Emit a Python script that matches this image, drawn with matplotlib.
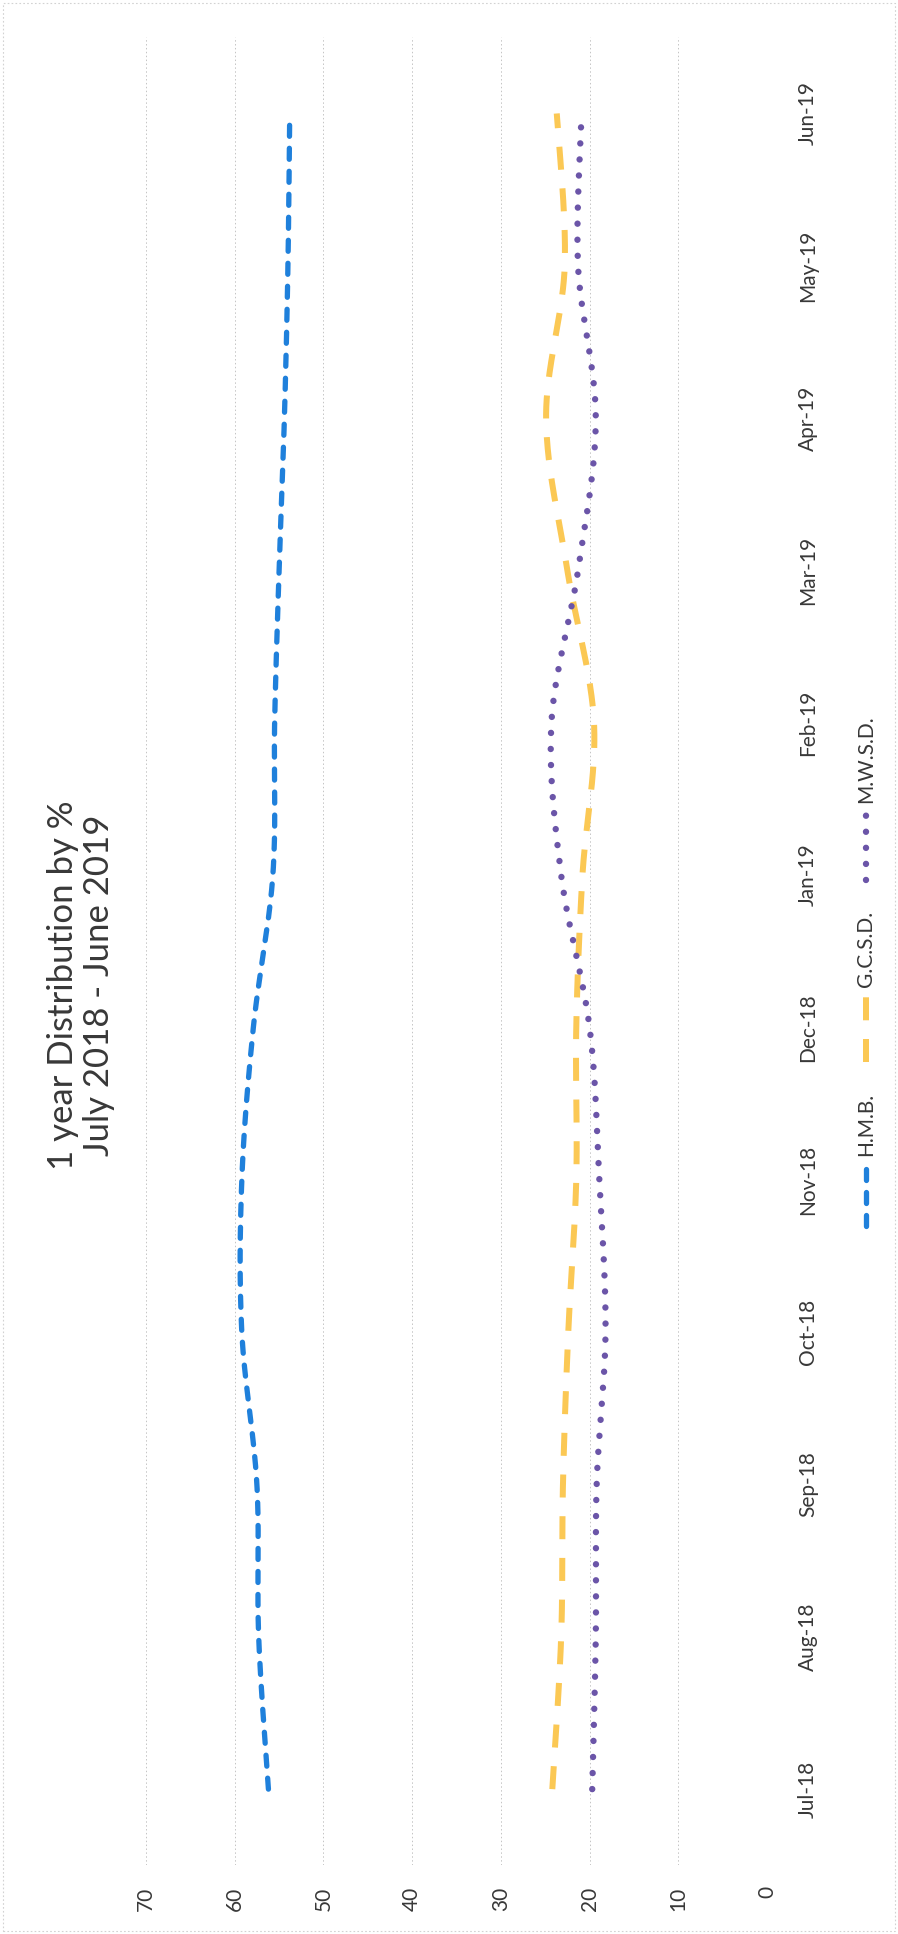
import numpy as np
import matplotlib
matplotlib.use("Agg")
import matplotlib.pyplot as plt
from matplotlib.lines import Line2D
from matplotlib.patches import Rectangle

plt.rcParams['font.family'] = ['Lato', 'DejaVu Sans']

# ---- data -------------------------------------------------------------
months = ['Jul-18', 'Aug-18', 'Sep-18', 'Oct-18', 'Nov-18', 'Dec-18',
          'Jan-19', 'Feb-19', 'Mar-19', 'Apr-19', 'May-19', 'Jun-19']
hmb = [56.2, 57.3, 57.5, 59.2, 59.2, 57.9, 55.7, 55.5, 55.0, 54.4, 54.0, 53.8]
gcsd = [24.2, 23.2, 23.0, 22.4, 21.5, 21.5, 20.8, 19.5, 22.5, 24.9, 22.8, 23.7]
mwsd = [19.7, 19.3, 19.2, 18.2, 18.9, 20.0, 23.2, 24.3, 21.3, 19.3, 21.3, 20.9]
value_ticks = [0, 10, 20, 30, 40, 50, 60, 70]
title_text = "1 year Distribution by %\nJuly 2018 - June 2019"
series_names = ['H.M.B.', 'G.C.S.D.', 'M.W.S.D.']

# ---- styles -----------------------------------------------------------
C_BLUE = '#1f80db'
C_GOLD = '#fbc854'
C_PURPLE = '#6b55a8'
TXT = '#383838'
GRID = '#c4c4c4'

W, H, DPI = 898, 1934, 100
fig = plt.figure(figsize=(W / DPI, H / DPI), dpi=DPI)
fig.patch.set_facecolor('white')


def px(v):
    """pixel length -> points"""
    return v * 72.0 / DPI


def smooth_curve(vals, n=40):
    """Smoothed line through the points (cubic Bezier, Excel-like tension)."""
    y = np.arange(len(vals), dtype=float)
    x = np.asarray(vals, dtype=float)
    P = np.column_stack([x, y])
    out = []
    for i in range(len(P) - 1):
        p0 = P[i - 1] if i > 0 else P[i]
        p1 = P[i]
        p2 = P[i + 1]
        p3 = P[i + 2] if i + 2 < len(P) else P[i + 1]
        c1 = p1 + (p2 - p0) / 6.0
        c2 = p2 - (p3 - p1) / 6.0
        t = np.linspace(0, 1, n, endpoint=(i == len(P) - 2))[:, None]
        seg = ((1 - t) ** 3) * p1 + 3 * ((1 - t) ** 2) * t * c1 \
            + 3 * (1 - t) * (t ** 2) * c2 + (t ** 3) * p2
        out.append(seg)
    out = np.vstack(out)
    return out[:, 0], out[:, 1]


# ---- plot area (the chart is laid out turned on its side) -------------
x_left, x_right = 146, 767          # value 70 ... value 0
y_top, y_bot = 37.3, 1865.3         # Jun-19 side ... Jul-18 side
ax = fig.add_axes([x_left / W, (H - y_bot) / H,
                   (x_right - x_left) / W, (y_bot - y_top) / H])
ax.set_xlim(70, 0)
ax.set_ylim(-0.5, len(months) - 0.5)
for s in ax.spines.values():
    s.set_visible(False)

ax.set_xticks(value_ticks)
ax.set_xticklabels([str(v) for v in value_ticks], rotation=90,
                   ha='center', va='top')
ax.tick_params(axis='x', length=0, pad=px(21), labelsize=15,
               labelcolor=TXT)
ax.grid(axis='x', color=GRID, lw=0.7, linestyle=(0, (1.5, 2.5)))
ax.set_axisbelow(True)

ax.yaxis.tick_right()
ax.set_yticks(range(len(months)))
ax.set_yticklabels(months, rotation=90, va='center', ha='left')
ax.tick_params(axis='y', length=0, pad=px(31), labelsize=15,
               labelcolor=TXT)

# ---- series -----------------------------------------------------------
LW_B, LW_G, LW_P = 5.3, 6.0, 6.4   # pixels
style_b = dict(color=C_BLUE, lw=px(LW_B), dashes=(11 / LW_B, 12 / LW_B),
               dash_capstyle='round')
style_g = dict(color=C_GOLD, lw=px(LW_G), dashes=(23 / LW_G, 18.7 / LW_G),
               dash_capstyle='butt')
style_p = dict(color=C_PURPLE, lw=px(LW_P), dashes=(0.01, 16 / LW_P),
               dash_capstyle='round')

for vals, st in ((gcsd, style_g), (mwsd, style_p), (hmb, style_b)):
    xs, ys = smooth_curve(vals)
    ax.plot(xs, ys, **st)

# ---- title ------------------------------------------------------------
fig.text(81 / W, 1 - 985 / H, title_text, rotation=90, ha='center',
         va='center', multialignment='center', fontsize=25, color=TXT,
         linespacing=1.15)

# ---- legend (stacked bottom to top) -----------------------------------
lx = 866 / W


def fy(v):
    return 1 - v / H


legend_items = [
    (style_b, 1226, 1166, series_names[0], 1156),
    (style_g, 1062, 996, series_names[1], 987),
    (style_p, 880, 813, series_names[2], 803),
]
for st, y0, y1, name, ty in legend_items:
    fig.add_artist(Line2D([lx, lx], [fy(y0), fy(y1)],
                          transform=fig.transFigure, **st))
    fig.text(lx, fy(ty), name, rotation=90, ha='center', va='bottom',
             fontsize=15, color=TXT)

# faint outer border of the chart area
fig.add_artist(Rectangle((3 / W, 3 / H), 1 - 6 / W, 1 - 6 / H,
                         transform=fig.transFigure, fill=False,
                         edgecolor='#d2d2d2', lw=0.8,
                         linestyle=(0, (1.5, 2.0))))

fig.savefig('out.png', dpi=DPI, facecolor='white')
